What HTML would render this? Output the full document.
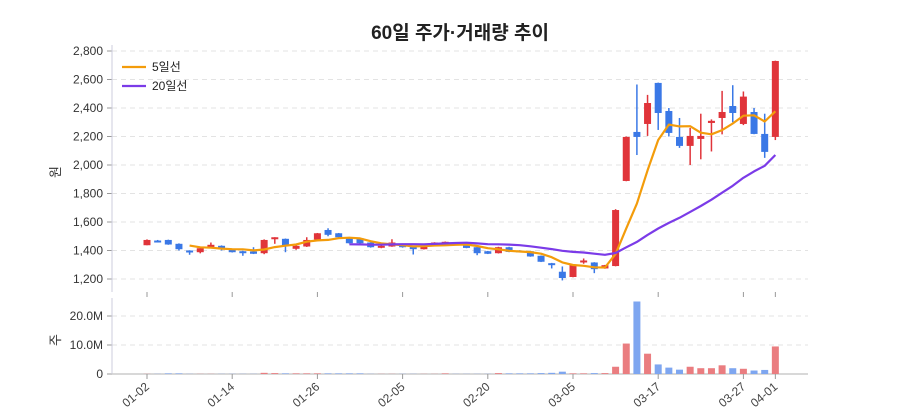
<!DOCTYPE html>
<html><head><meta charset="utf-8"><style>
body{margin:0;background:#fff;}
svg{display:block;font-family:"Liberation Sans","Noto Sans CJK KR",sans-serif;}
</style></head><body>
<svg id="c" width="900" height="420" xmlns="http://www.w3.org/2000/svg"></svg>
<script>
const d=[ // o,c,h,l
[1437,1474,1478,1437],[1470,1456,1474,1456],[1474,1442,1476,1440],[1447,1409,1450,1400],[1400,1391,1402,1370],
[1388,1416,1420,1380],[1416,1440,1456,1414],[1433,1409,1436,1400],[1409,1388,1410,1386],[1395,1388,1398,1363],
[1393,1377,1423,1375],[1381,1474,1478,1374],[1488,1493,1493,1447],[1482,1435,1484,1388],[1412,1433,1435,1405],
[1428,1474,1493,1425],[1477,1521,1523,1475],[1544,1510,1556,1500],[1521,1493,1523,1490],[1493,1451,1495,1449],
[1486,1451,1488,1449],[1456,1423,1458,1420],[1419,1433,1436,1416],[1428,1456,1479,1426],[1437,1423,1440,1420],
[1428,1409,1430,1372],[1409,1433,1435,1407],[1442,1456,1458,1440],[1451,1461,1463,1449],[1456,1442,1458,1440],
[1456,1418,1458,1416],[1423,1381,1425,1367],[1395,1377,1397,1375],[1381,1423,1426,1379],[1423,1390,1426,1388],
[1400,1395,1402,1393],[1395,1358,1397,1356],[1363,1321,1365,1319],[1311,1302,1313,1274],[1251,1207,1288,1190],
[1214,1302,1304,1212],[1321,1330,1344,1307],[1316,1269,1318,1241],[1274,1297,1299,1272],[1291,1684,1690,1289],
[1888,2197,2200,1886],[2232,2197,2565,2070],[2288,2435,2492,2204],[2576,2365,2578,2246],[2379,2225,2400,2200],
[2197,2134,2330,2120],[2134,2204,2260,2000],[2183,2204,2360,2040],[2295,2310,2320,2095],[2330,2372,2520,2215],
[2414,2365,2560,2300],[2288,2480,2516,2280],[2372,2218,2400,2216],[2218,2092,2360,2050],[2197,2730,2732,2175]];
const vol={44:2.5,45:10.5,46:25,47:7,48:3.3,49:2.2,50:1.5,51:2.5,52:2.0,53:2.0,54:3.0,55:2.0,56:1.8,57:1.2,58:1.4,59:9.5,
 2:0.2,3:0.2,11:0.4,12:0.3,13:0.2,14:0.2,15:0.2,16:0.2,17:0.2,18:0.2,19:0.2,20:0.2,28:0.2,37:0.3,38:0.4,40:0.2,43:0.3,33:0.3,34:0.2,35:0.2,36:0.2,39:0.8,41:0.2,42:0.3};
const X=i=>147+i*10.65, Y=p=>279-(p-1200)*28.5/200, V=v=>374-v*2.9;
let s='';
s+='<text x="460" y="39" text-anchor="middle" font-size="19" font-weight="bold" fill="#222">60일 주가·거래량 추이</text>';
for(let p=1200;p<=2800;p+=200){const y=Y(p);s+=`<line x1="112" x2="808" y1="${y}" y2="${y}" stroke="#e3e3e3" stroke-dasharray="5,4"/><line x1="107" x2="112" y1="${y}" y2="${y}" stroke="#999"/><text x="103" y="${y+4}" text-anchor="end" font-size="12" fill="#333">${p.toLocaleString('en-US')}</text>`;}
[[0,'0'],[10,'10.0M'],[20,'20.0M']].forEach(([v,t])=>{const y=V(v);if(v)s+=`<line x1="112" x2="808" y1="${y}" y2="${y}" stroke="#e3e3e3" stroke-dasharray="5,4"/>`;s+=`<line x1="107" x2="112" y1="${y}" y2="${y}" stroke="#999"/><text x="103" y="${y+4}" text-anchor="end" font-size="12" fill="#333">${t}</text>`;});
s+='<line x1="112" x2="112" y1="45" y2="292" stroke="#ccd"/><line x1="112" x2="112" y1="298" y2="374" stroke="#ccd"/><line x1="112" x2="808" y1="374" y2="374" stroke="#ccc" stroke-width="1.5"/>';
s+='<text transform="translate(60,172) rotate(-90)" font-size="13" fill="#333" text-anchor="middle">원</text><text transform="translate(60,340) rotate(-90)" font-size="13" fill="#333" text-anchor="middle">주</text>';
[[0,'01-02'],[8,'01-14'],[16,'01-26'],[24,'02-05'],[32,'02-20'],[40,'03-05'],[48,'03-17'],[56,'03-27'],[59,'04-01']].forEach(([i,t])=>{const x=X(i);s+=`<line x1="${x}" x2="${x}" y1="374" y2="379" stroke="#999"/><line x1="${x}" x2="${x}" y1="292" y2="297" stroke="#999"/><text transform="translate(${x+3},388) rotate(-40)" text-anchor="end" font-size="12" fill="#444">${t}</text>`;});
d.forEach((c,i)=>{const[o,cl,h,l]=c;const up=cl>=o;const col=up?'#e0343a':'#3a78e6';const x=X(i);
s+=`<line x1="${x}" x2="${x}" y1="${Y(h)}" y2="${Y(l)}" stroke="${col}" stroke-width="1.5"/>`;
const t=Y(Math.max(o,cl)),b=Y(Math.min(o,cl));s+=`<rect x="${x-3.5}" y="${t}" width="7" height="${Math.max(b-t,2)}" fill="${col}"/>`;
const v=vol[i]||0.05;const vt=V(v);s+=`<rect x="${x-3.5}" y="${vt}" width="7" height="${374-vt}" fill="${up?'#ea7d80':'#7ea6f0'}"/>`;});
function ma(n,col){let pts=[];for(let i=n-1;i<60;i++){let a=0;for(let k=i-n+1;k<=i;k++)a+=d[k][1];pts.push(X(i)+','+Y(a/n).toFixed(1));}s+=`<polyline points="${pts.join(' ')}" fill="none" stroke="${col}" stroke-width="2.2" stroke-linejoin="round"/>`;}
ma(5,'#f39c0b');ma(20,'#7b3be8');
s+='<line x1="122" x2="146" y1="67" y2="67" stroke="#f39c0b" stroke-width="2.2"/><text x="152" y="71" font-size="12" fill="#222">5일선</text>';
s+='<line x1="122" x2="146" y1="86" y2="86" stroke="#7b3be8" stroke-width="2.2"/><text x="152" y="90" font-size="12" fill="#222">20일선</text>';
document.getElementById('c').innerHTML=s;
</script>
</body></html>
